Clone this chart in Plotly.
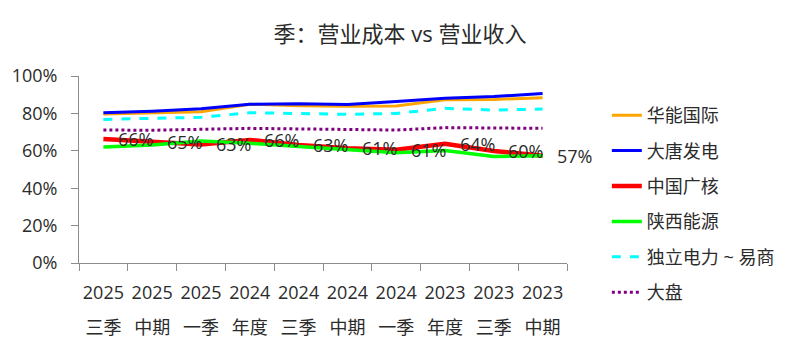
import plotly.graph_objects as go

years = ["2025", "2025", "2025", "2024", "2024", "2024", "2024", "2023", "2023", "2023"]
seasons = ["三季", "中期", "一季", "年度", "三季", "中期", "一季", "年度", "三季", "中期"]
cats = [f"{y} {s}" for y, s in zip(years, seasons)]

huaneng = [79.7, 80.2, 80.9, 84.9, 84.1, 83.8, 84.0, 87.3, 87.5, 88.4]
datang = [80.4, 81.2, 82.5, 84.9, 85.2, 84.8, 86.4, 88.1, 89.0, 90.7]
cgn = [66.3, 64.9, 63.4, 65.8, 63.1, 61.4, 60.6, 63.7, 59.9, 57.4]
shaanxi = [62.0, 63.1, 65.2, 64.0, 62.3, 60.8, 59.0, 60.1, 56.9, 57.4]
duli = [76.8, 77.2, 77.9, 80.4, 80.0, 79.5, 80.0, 82.7, 81.8, 82.3]
dapan = [71.1, 71.0, 71.5, 72.0, 71.7, 71.5, 71.1, 72.4, 72.2, 72.0]

FONT = "Open Sans, Noto Sans CJK SC, sans-serif"
TXT = "#2b2b2b"
AX = "#8c8c8c"

series = [
    ("华能国际", huaneng, dict(color="#FFA500", width=3)),
    ("大唐发电", datang, dict(color="#0000FF", width=3)),
    ("中国广核", cgn, dict(color="#FF0000", width=4.5)),
    ("陕西能源", shaanxi, dict(color="#00FF00", width=3.5)),
    ("独立电力 ~ 易商", duli, dict(color="#00FFFF", width=3, dash="dash")),
    ("大盘", dapan, dict(color="#800080", width=3, dash="dot")),
]

fig = go.Figure()
for i, (name, vals, line) in enumerate(series):
    fig.add_trace(go.Scatter(
        x=cats, y=[v / 100 for v in vals], name=name, mode="lines",
        line=line, legendgroup=f"g{i}",
    ))

# helper trace for the second row of category labels
fig.add_trace(go.Scatter(x=cats, y=[v / 100 for v in dapan], xaxis="x2", mode="lines",
                         line=dict(width=0), showlegend=False, hoverinfo="skip"))

for c, v in zip(cats, cgn):
    fig.add_annotation(x=c, y=v / 100, text=f"{round(v)}%", showarrow=False,
                       xshift=32, font=dict(size=18, color=TXT, family=FONT))

fig.update_layout(
    width=800, height=353,
    margin=dict(l=77, r=233, t=76, b=90),
    paper_bgcolor="white", plot_bgcolor="white",
    font=dict(family=FONT, size=18, color=TXT),
    title=dict(text="季：营业成本 vs 营业收入", x=0.5, xref="container", xanchor="center",
               y=1 - 34 / 353, yref="container", yanchor="middle",
               font=dict(size=22, color=TXT, family=FONT)),
    showlegend=True,
    legend=dict(x=(607 - 77) / 490, xref="paper", y=(263 - 97) / 187, yanchor="top",
                traceorder="grouped", tracegroupgap=9, maxheight=340,
                font=dict(size=18, color=TXT, family=FONT), bgcolor="rgba(0,0,0,0)"),
    xaxis=dict(type="category", categoryarray=cats, categoryorder="array",
               range=[-0.5, 9.5], tickmode="array", tickvals=cats, ticktext=years,
               tickson="boundaries", ticks="outside", ticklen=7, tickcolor=AX, tickangle=0,
               showline=True, linecolor=AX, linewidth=1, showgrid=False, zeroline=False,
               ticklabelstandoff=13, tickfont=dict(size=18, color=TXT)),
    xaxis2=dict(type="category", categoryarray=cats, categoryorder="array",
                range=[-0.5, 9.5], overlaying="x", anchor="y", side="bottom",
                tickmode="array", tickvals=cats, ticktext=seasons, ticks="", tickangle=0,
                showline=False, showgrid=False, zeroline=False,
                ticklabelstandoff=52, tickfont=dict(size=18, color=TXT)),
    yaxis=dict(range=[0, 1], tickvals=[0, 0.2, 0.4, 0.6, 0.8, 1.0], tickformat=".0%",
               ticks="outside", ticklen=7, tickcolor=AX, showline=True, linecolor=AX,
               linewidth=1, showgrid=False, zeroline=False, ticklabelstandoff=10,
               tickfont=dict(size=18, color=TXT)),
)

fig.write_html("out.html")
